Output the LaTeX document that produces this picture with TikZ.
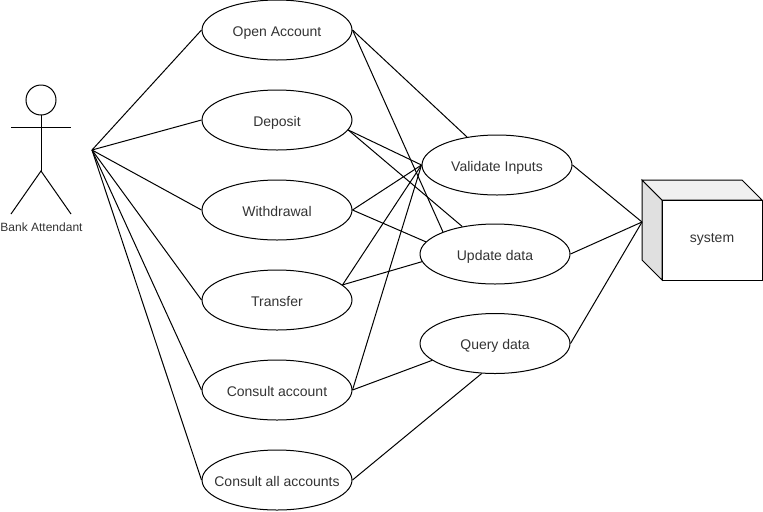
\documentclass[tikz,border=0pt]{standalone}
\usepackage{fontspec}
\setmainfont{Liberation Sans}
\usetikzlibrary{shapes.geometric}
\tikzset{
    usecase/.style={ellipse,draw,minimum width=112.5pt,minimum height=45pt,inner sep=0pt,font=\fontsize{10.5}{12}\selectfont,text=black!80,text height=9pt,text depth=0pt},
    link/.style={line width=0.75pt},
}

\begin{document}
\begin{tikzpicture}[x=0.75pt,y=-0.75pt,line width=0.75pt]
    \useasboundingbox (0,0) rectangle (763,511);

    % use cases
    \foreach \name/\ypos/\txt in {open/30/Open Account,deposit/120/Deposit,withdrawal/210/Withdrawal,transfer/300/Transfer,consult/390/Consult account,consultall/480/Consult all accounts}{
        \node[usecase] (\name) at (277,\ypos) {\makebox[0pt]{\txt}};
    }
    \node[usecase] (validate) at (497,165) {\makebox[0pt]{Validate Inputs}};
    \node[usecase] (update) at (495,254) {\makebox[0pt]{Update data}};
    \node[usecase] (query) at (495,343.5) {\makebox[0pt]{Query data}};

    % actor
    \draw (41,100) circle (15);
    \draw (11,127) -- (71,127);
    \draw (41,115) -- (41,171);
    \draw (11,214) -- (41,171) -- (71,214);
    \node[font=\fontsize{9}{11}\selectfont,text=black!80] (attendant) at (41.5,227) {Bank Attendant};
    \coordinate (hub) at (92,150);

    % system box
    \filldraw[fill=black!12] (642,180) -- (662,200) -- (662,280) -- (642,260) -- cycle;
    \filldraw[fill=black!6] (642,180) -- (742,180) -- (762,200) -- (662,200) -- cycle;
    \node[draw,minimum width=75pt,minimum height=60pt,inner sep=0pt,font=\fontsize{10.5}{12}\selectfont,text=black!80,text height=3pt,text depth=0pt] (system) at (712,240) {system\hspace{5pt}};
    \coordinate (sysin) at (642,222);

    % actor links
    \foreach \name in {open,deposit,withdrawal,transfer,consult,consultall}{
        \draw[link] (hub) -- (\name.west);
    }

    % use case links
    \draw[link] (open.east) -- (validate);
    \draw[link] (open.east) -- (update.157);
    \draw[link] (deposit.-8) -- (validate.west);
    \draw[link] (deposit.-8) -- (update.140);
    \draw[link] (withdrawal.east) -- (validate.west);
    \draw[link] (withdrawal.east) -- (update.170);
    \draw[link] (transfer.13) -- (validate.west);
    \draw[link] (transfer.13) -- (update.186);
    \draw[link] (consult.east) -- (validate.west);
    \draw[link] (consult.east) -- (query.195);
    \draw[link] (consultall.east) -- (query.246);

    % system links
    \draw[link] (validate.east) -- (sysin);
    \draw[link] (update.east) -- (sysin);
    \draw[link] (query.east) -- (sysin);
\end{tikzpicture}
\end{document}
